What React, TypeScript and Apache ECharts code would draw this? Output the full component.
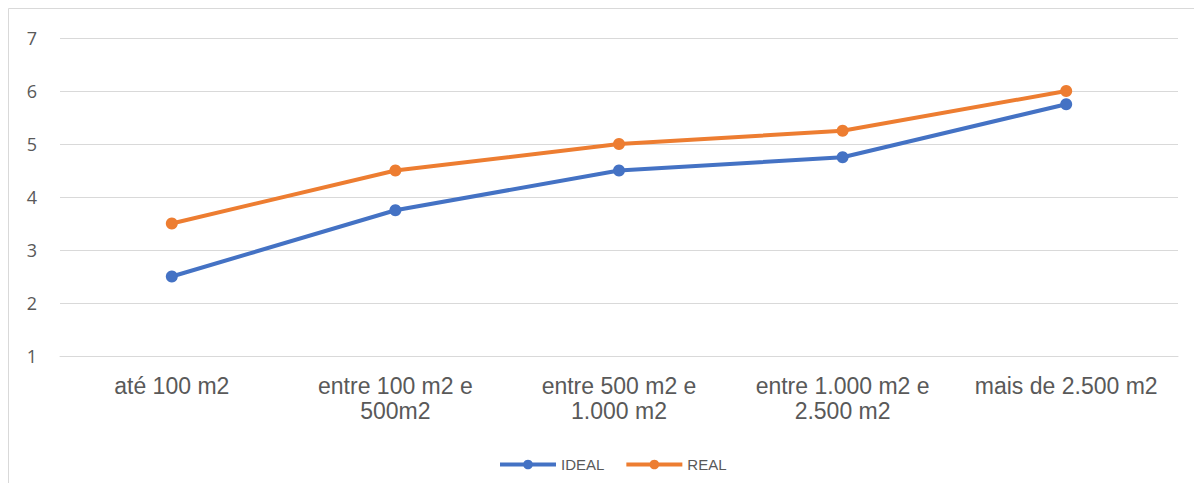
import React, { useEffect, useRef } from "react";
import * as echarts from "echarts";

const categories = [
  "até 100 m2",
  "entre 100 m2 e\n500m2",
  "entre 500 m2 e\n1.000 m2",
  "entre 1.000 m2 e\n2.500 m2",
  "mais de 2.500 m2",
];
const idealValues = [2.5, 3.75, 4.5, 4.75, 5.75];
const realValues = [3.5, 4.5, 5.0, 5.25, 6.0];
const seriesNames = ["IDEAL", "REAL"];
const seriesColors = ["#4472C4", "#ED7D31"];

const ARIAL = "'Liberation Sans', Arial, sans-serif";

export default function App() {
  const ref = useRef<HTMLDivElement>(null);
  useEffect(() => {
    if (!ref.current) return;
    const chart = echarts.init(ref.current, null, { renderer: "svg" });
    chart.setOption({
      animation: false,
      backgroundColor: "#ffffff",
      graphic: [
        {
          type: "rect",
          shape: { x: 8.5, y: 8.5, width: 1200, height: 500 },
          style: { fill: "none", stroke: "#d9d9d9", lineWidth: 1 },
          silent: true,
        },
      ],
      grid: { left: 60, right: 16, top: 38, bottom: 127, containLabel: false },
      legend: {
        top: 452,
        left: 493,
        itemWidth: 56,
        itemHeight: 12,
        itemGap: 20,
        lineStyle: { width: 4 },
        textStyle: { color: "#595959", fontSize: 15, fontFamily: ARIAL },
        data: seriesNames.map((n, i) => ({
          name: n,
          lineStyle: { width: 4, color: seriesColors[i] },
        })),
      },
      xAxis: {
        type: "category",
        data: categories,
        boundaryGap: true,
        axisLine: { show: true, lineStyle: { color: "#d9d9d9", width: 1 } },
        axisTick: { show: false },
        axisLabel: {
          color: "#595959",
          fontSize: 23,
          fontFamily: ARIAL,
          lineHeight: 25,
          margin: 17,
          interval: 0,
        },
      },
      yAxis: {
        type: "value",
        min: 1,
        max: 7,
        interval: 1,
        axisLine: { show: false },
        axisTick: { show: false },
        splitLine: { lineStyle: { color: "#d9d9d9", width: 1 } },
        axisLabel: {
          color: "#595959",
          fontSize: 18,
          fontFamily: "'Open Sans', sans-serif",
          margin: 23,
        },
      },
      series: seriesNames.map((n, i) => ({
        name: n,
        type: "line",
        data: i === 0 ? idealValues : realValues,
        symbol: "circle",
        symbolSize: 12,
        lineStyle: { color: seriesColors[i], width: 4 },
        itemStyle: { color: seriesColors[i] },
      })),
    });
    return () => chart.dispose();
  }, []);
  return (
    <div
      ref={ref}
      style={{ position: "absolute", left: 0, top: 0, width: 1194, height: 483 }}
    />
  );
}
